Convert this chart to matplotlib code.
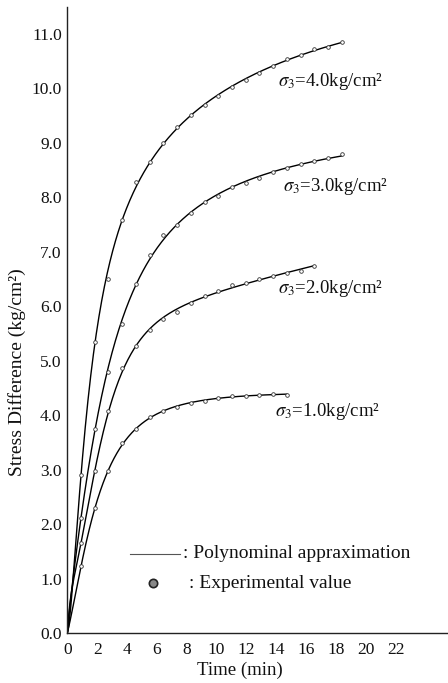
import matplotlib
matplotlib.use("Agg")
import matplotlib.pyplot as plt
from matplotlib.lines import Line2D
import numpy as np

plt.rcParams['font.family'] = ['Liberation Serif', 'DejaVu Serif']
plt.rcParams['mathtext.fontset'] = 'stix'

# ---- data ----
time_min = [0.0, 0.92, 1.84, 2.76, 3.68, 4.60, 5.52, 6.44, 7.36, 8.28, 9.20,
            10.12, 11.04, 11.96, 12.88, 13.80, 14.72, 15.64, 16.56, 17.48, 18.40]

stress_s4 = [0.0, 2.90, 5.34, 6.50, 7.58, 8.28, 8.65, 8.99, 9.29, 9.51, 9.69,
             9.86, 10.02, 10.15, 10.28, 10.41, 10.54, 10.61, 10.72, 10.76, 10.85]
stress_s3 = [0.0, 2.12, 3.74, 4.79, 5.68, 6.40, 6.94, 7.31, 7.50, 7.71, 7.92,
             8.02, 8.19, 8.26, 8.35, 8.46, 8.54, 8.61, 8.67, 8.72, 8.79]
stress_s2 = [0.0, 1.66, 2.97, 4.07, 4.87, 5.27, 5.57, 5.76, 5.90, 6.06, 6.19,
             6.28, 6.39, 6.42, 6.50, 6.56, 6.61, 6.65, 6.74]
stress_s1 = [0.0, 1.23, 2.29, 2.97, 3.49, 3.75, 3.96, 4.07, 4.16, 4.23, 4.27,
             4.31, 4.36, 4.36, 4.37, 4.39, 4.37]

curve_labels = ["4.0", "3.0", "2.0", "1.0"]

x_ticks = [0, 2, 4, 6, 8, 10, 12, 14, 16, 18, 20, 22]
y_ticks = [0.0, 1.0, 2.0, 3.0, 4.0, 5.0, 6.0, 7.0, 8.0, 9.0, 10.0, 11.0]


def poly_approx(x, y, deg=5, n=400):
    """Least-squares polynomial approximation in u = t/(t+3)."""
    x = np.asarray(x, float)
    y = np.asarray(y, float)
    u = x / (x + 3.0)
    w = np.ones_like(y)
    w[:3] = [10.0, 3.0, 2.0]
    c = np.polyfit(u, y, deg, w=w)
    xs = np.linspace(x[0], x[-1], n)
    return xs, np.polyval(c, xs / (xs + 3.0))


# ---- figure ----
W, H = 448, 683
fig = plt.figure(figsize=(W / 100, H / 100), dpi=100)

def fx(px):
    return px / W

def fy(py):
    return 1 - py / H

x0, y0, x1, y1 = 67.3, 633.3, 448.0, 7.0
ax = fig.add_axes([fx(x0), fy(y0), fx(x1) - fx(x0), fy(y1) - fy(y0)])
ax.set_xlim(0, (x1 - x0) / 14.92)
ax.set_ylim(0, (y0 - y1) / 54.5)

for s in ("top", "right"):
    ax.spines[s].set_visible(False)
for s in ("left", "bottom"):
    ax.spines[s].set_linewidth(1.0)
    ax.spines[s].set_color("#222222")

ax.set_xticks(x_ticks)
ax.set_xticklabels([str(v) for v in x_ticks])
ax.set_yticks(y_ticks)
ax.set_yticklabels([f"{v:.1f}" for v in y_ticks])
ax.tick_params(axis="both", length=0, labelsize=12.5, colors="#111111")
ax.tick_params(axis="x", pad=6)
ax.tick_params(axis="y", pad=4)

series = [stress_s4, stress_s3, stress_s2, stress_s1]
for vals in series:
    t = time_min[:len(vals)]
    xs, ys = poly_approx(t, vals)
    ax.plot(xs, ys, color="black", lw=1.0, zorder=2)
    ax.plot(t[1:], vals[1:], ls="none", marker="o", ms=2.6,
            mfc="white", mec="#333333", mew=0.6, zorder=3)

# curve annotations (pixel positions of left edge / centre line)
ann_pos = [(278, 81), (283, 186), (278, 289), (275, 412)]
for lab, (px, py) in zip(curve_labels, ann_pos):
    fig.text(fx(px), fy(py), r"$\sigma_3$" + f"={lab}kg/cm²",
             fontsize=13.5, ha="left", va="center", color="#111111")

# axis titles
fig.text(fx(17), fy(372), "Stress Difference (kg/cm²)", rotation=90,
         fontsize=14, ha="center", va="center", color="#111111")
fig.text(fx(240), fy(670), "Time (min)", fontsize=13.5,
         ha="center", va="center", color="#111111")

# legend
fig.add_artist(Line2D([fx(130), fx(180)], [fy(554), fy(554)],
                      color="#555555", lw=0.8))
fig.text(fx(183), fy(554), ": Polynominal appraximation", fontsize=14,
         ha="left", va="center", color="#111111")
fig.add_artist(Line2D([fx(153)], [fy(583)], ls="none", marker="o", ms=6,
                      mfc="#888888", mec="#222222", mew=1.2))
fig.text(fx(189), fy(583), ": Experimental value", fontsize=14,
         ha="left", va="center", color="#111111")

fig.savefig("out.png", dpi=100, facecolor="white")
